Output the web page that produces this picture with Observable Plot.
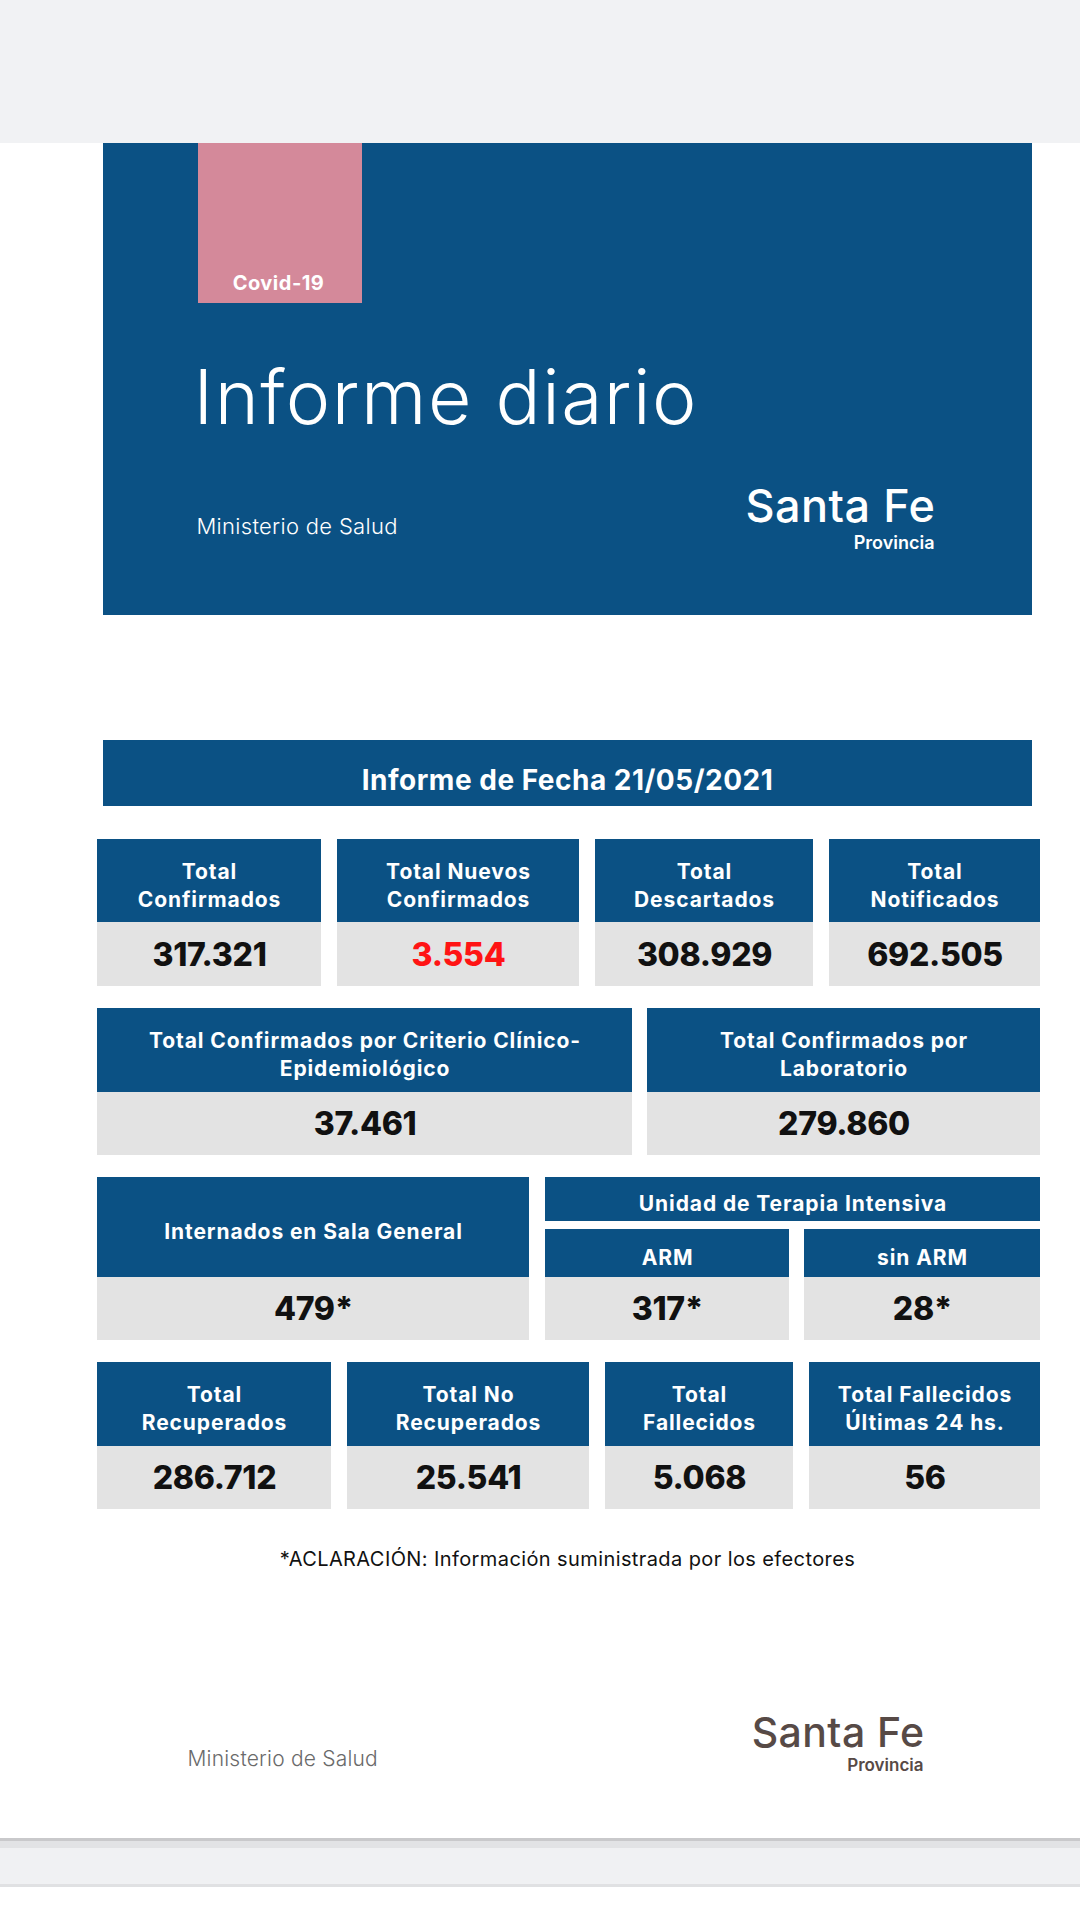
<!DOCTYPE html>
<html>
<head>
<meta charset="utf-8">
<script src="https://cdn.jsdelivr.net/npm/d3@7"></script>
<script src="https://cdn.jsdelivr.net/npm/@observablehq/plot@0.6"></script>
<style>
  html, body { margin: 0; padding: 0; background: #ffffff; }
  #chart svg { display: block; }
</style>
</head>
<body>
<div id="chart"></div>
<script>
// ---------------- DATA ----------------
const reportTitle = "Informe diario";
const badge = "Covid-19";
const ministry = "Ministerio de Salud";
const brand = "Santa Fe";
const brandSub = "Provincia";
const reportDate = "21/05/2021";
const footnote = "*ACLARACIÓN: Información suministrada por los efectores";

const row1Labels = ["Total\nConfirmados", "Total Nuevos\nConfirmados", "Total\nDescartados", "Total\nNotificados"];
const row1Values = [317321, 3554, 308929, 692505];

const row2Labels = ["Total Confirmados por Criterio Clínico-\nEpidemiológico", "Total Confirmados por\nLaboratorio"];
const row2Values = [37461, 279860];

const row3Group = "Unidad de Terapia Intensiva";
const row3Labels = ["Internados en Sala General", "ARM", "sin ARM"];
const row3Values = [479, 317, 28];

const row4Labels = ["Total\nRecuperados", "Total No\nRecuperados", "Total\nFallecidos", "Total Fallecidos\nÚltimas 24 hs."];
const row4Values = [286712, 25541, 5068, 56];

// ---------------- LAYOUT (page units) ----------------
const W = 1080, H = 1920;
const BLUE = "#0b5184", PINK = "#d4899a", GREYCELL = "#e3e3e3";
const FONT = "Inter, 'Open Sans', sans-serif";
const fmt = d3.formatLocale({decimal: ",", thousands: ".", grouping: [3]}).format(",d");

const rowLayouts = [
  {y: [839, 922, 986], cols: [[97, 321], [337, 579], [595, 813], [829, 1040]], labels: row1Labels, values: row1Values},
  {y: [1008, 1092, 1155], cols: [[97, 632], [647, 1040]], labels: row2Labels, values: row2Values},
  {y: [1362, 1446, 1509], cols: [[97, 331], [347, 589], [605, 793], [809, 1040]], labels: row4Labels, values: row4Values}
];
const row3Layout = {
  cols: [[97, 529], [545, 789], [804, 1040]],
  headTop: [1177, 1229, 1229], headBottom: 1277, valBottom: 1340,
  group: {x1: 545, x2: 1040, y1: 1177, y2: 1221}
};

// build cells from data + layout
const headers = [], valueCells = [];
rowLayouts.forEach(r => {
  r.cols.forEach(([x1, x2], i) => {
    headers.push({x1, x2, y1: r.y[0], y2: r.y[1], label: r.labels[i]});
    valueCells.push({x1, x2, y1: r.y[1], y2: r.y[2], value: fmt(r.values[i]), color: (r.values === row1Values && i === 1) ? "#ff1414" : "#111111"});
  });
});
row3Layout.cols.forEach(([x1, x2], i) => {
  headers.push({x1, x2, y1: row3Layout.headTop[i], y2: row3Layout.headBottom, label: row3Labels[i]});
  valueCells.push({x1, x2, y1: row3Layout.headBottom, y2: row3Layout.valBottom, value: fmt(row3Values[i]) + "*", color: "#111111"});
});
headers.push({...row3Layout.group, label: row3Group});

const bands = [
  {x1: 0, x2: W, y1: 0, y2: 143, fill: "#f1f2f4"},
  {x1: 0, x2: W, y1: 1838, y2: 1841, fill: "#c9c9cb"},
  {x1: 0, x2: W, y1: 1841, y2: 1848, fill: "#e2e3e5"},
  {x1: 0, x2: W, y1: 1848, y2: 1884, fill: "#f0f1f3"},
  {x1: 0, x2: W, y1: 1884, y2: 1887, fill: "#e0e1e3"},
  {x1: 103, x2: 1032, y1: 143, y2: 615, fill: BLUE},
  {x1: 198, x2: 362, y1: 143, y2: 303, fill: PINK},
  {x1: 103, x2: 1032, y1: 740, y2: 806, fill: BLUE}
];

const freeTexts = [
  {x: 278, y: 289, text: badge, size: 20, weight: 700, fill: "#ffffff", anchor: "middle", ls: 0.5},
  {x: 193, y: 423, text: reportTitle, size: 75, weight: 300, fill: "#ffffff", anchor: "start", ls: 1.5},
  {x: 196, y: 533, text: ministry, size: 22, weight: 300, fill: "#ffffff", anchor: "start", ls: 0.3},
  {x: 935, y: 521, text: brand, size: 45, weight: 500, fill: "#ffffff", anchor: "end", ls: 0.5},
  {x: 934, y: 548, text: brandSub, size: 18, weight: 600, fill: "#ffffff", anchor: "end", ls: 0},
  {x: 567, y: 789, text: "Informe de Fecha " + reportDate, size: 28, weight: 700, fill: "#ffffff", anchor: "middle", ls: 0.5},
  {x: 567, y: 1565, text: footnote, size: 20, weight: 400, fill: "#111111", anchor: "middle", ls: 0.4},
  {x: 187, y: 1765, text: ministry, size: 21, weight: 300, fill: "#6a6a6a", anchor: "start", ls: 0.2},
  {x: 924, y: 1746, text: brand, size: 41, weight: 500, fill: "#574a46", anchor: "end", ls: 0.4},
  {x: 923, y: 1770, text: brandSub, size: 17, weight: 600, fill: "#574a46", anchor: "end", ls: 0}
];

const plot = Plot.plot({
  width: W, height: H, margin: 0,
  x: {domain: [0, W], range: [0, W], axis: null},
  y: {domain: [0, H], range: [0, H], axis: null},
  style: {fontFamily: FONT, background: "#ffffff"},
  marks: [
    Plot.rect(bands, {x1: "x1", x2: "x2", y1: "y1", y2: "y2", fill: d => d.fill}),
    Plot.rect(valueCells, {x1: "x1", x2: "x2", y1: "y1", y2: "y2", fill: GREYCELL}),
    Plot.rect(headers, {x1: "x1", x2: "x2", y1: "y1", y2: "y2", fill: BLUE}),
    Plot.text(headers, {
      x: d => (d.x1 + d.x2) / 2, y: d => (d.y1 + d.y2) / 2 + 3,
      text: "label", fill: "#ffffff", fontSize: 21, fontWeight: 700,
      lineHeight: 1.33, lineAnchor: "middle", textAnchor: "middle"
    }),
    Plot.text(valueCells, {
      x: d => (d.x1 + d.x2) / 2, y: d => (d.y1 + d.y2) / 2 + 1,
      text: "value", fill: d => d.color, fontSize: 32, fontWeight: 800,
      lineAnchor: "middle", textAnchor: "middle"
    }),
    ...freeTexts.map(t => Plot.text([t], {
      x: "x", y: "y", text: "text", fill: t.fill, fontSize: t.size, fontWeight: t.weight,
      textAnchor: t.anchor, lineAnchor: "bottom"
    }))
  ]
});
document.getElementById("chart").appendChild(plot);

// letter spacing to approximate the wider geometric typeface of the original
const spacing = [0.9, -0.3, ...freeTexts.map(t => t.ls)];
d3.select(plot).selectAll('g[aria-label="text"]').each(function(_, i) {
  if (spacing[i]) this.setAttribute("letter-spacing", spacing[i]);
});
</script>
</body>
</html>
